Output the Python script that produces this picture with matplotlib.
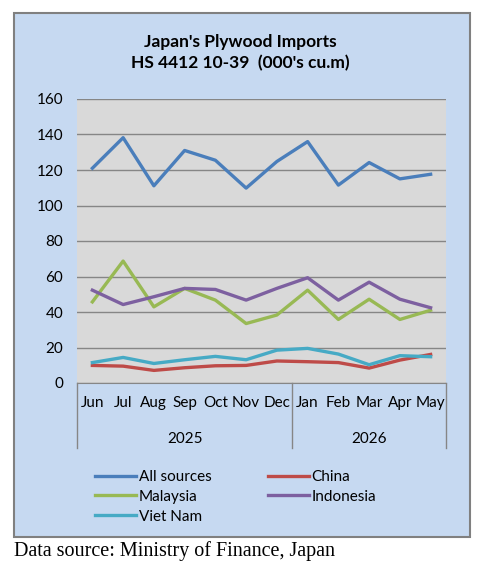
import matplotlib.pyplot as plt
from matplotlib.patches import Rectangle

months = ["Jun", "Jul", "Aug", "Sep", "Oct", "Nov", "Dec", "Jan", "Feb", "Mar", "Apr", "May"]
years = ["2025", "2026"]
year_spans = [(0, 7), (7, 12)]

all_sources = [121.0, 138.2, 111.1, 131.0, 125.5, 109.8, 124.8, 136.0, 111.5, 124.2, 115.0, 117.6]
china = [9.9, 9.5, 7.1, 8.6, 9.7, 9.9, 12.4, 12.0, 11.5, 8.4, 12.9, 16.1]
malaysia = [45.7, 68.7, 42.9, 53.3, 46.7, 33.5, 38.3, 52.3, 35.8, 47.2, 35.8, 41.0]
indonesia = [52.3, 44.2, 48.6, 53.3, 52.7, 46.7, 53.3, 59.3, 46.7, 56.8, 47.2, 42.4]
viet_nam = [11.5, 14.4, 11.0, 13.1, 15.0, 13.1, 18.5, 19.5, 16.3, 10.3, 15.4, 14.8]

plt.rcParams['font.family'] = ['Lato', 'DejaVu Sans']

fig = plt.figure(figsize=(4.84, 5.66), dpi=100)

# outer light blue panel
fig.patches.append(Rectangle((14 / 484, 1 - 537 / 566), 456 / 484, 524 / 566,
                             transform=fig.transFigure, facecolor="#C6D9F1",
                             edgecolor="#808080", linewidth=1.5, zorder=-5))

ax = fig.add_axes([77 / 484, 1 - 383 / 566, 369 / 484, 284 / 566])
ax.set_facecolor("#D9D9D9")

x = range(len(months))
lw = 2.4
l1, = ax.plot(x, all_sources, color="#4A7EBB", lw=lw, label="All sources")
l2, = ax.plot(x, china, color="#BE4B48", lw=lw, label="China")
l3, = ax.plot(x, malaysia, color="#98B954", lw=lw, label="Malaysia")
l4, = ax.plot(x, indonesia, color="#7D60A0", lw=lw, label="Indonesia")
l5, = ax.plot(x, viet_nam, color="#46AAC5", lw=lw, label="Viet Nam")

ax.set_xlim(-0.5, len(months) - 0.5)
ax.set_ylim(0, 160)
ax.set_yticks(range(0, 161, 20))
ax.yaxis.grid(True, color="#868686", lw=1)
ax.set_axisbelow(True)
for s in ["left", "right", "top"]:
    ax.spines[s].set_visible(False)
ax.spines["bottom"].set_color("#868686")
ax.tick_params(axis="y", length=0, labelsize=11, pad=10)
ax.tick_params(axis="x", length=0, labelsize=11, pad=9.5)
ax.set_xticks(list(x))
ax.set_xticklabels(months)

# year group labels and separators
sep_h = (448 - 383) / 284
for (a, b), yr in zip(year_spans, years):
    ax.text((a + b - 1) / 2, -(439 - 383) / 284, yr, transform=ax.get_xaxis_transform(),
            ha="center", va="center", fontsize=11)
for xs in [-0.5, 6.5, 11.5]:
    ax.plot([xs, xs], [0, -sep_h], transform=ax.get_xaxis_transform(),
            color="#868686", lw=1, clip_on=False)

fig.text(0.497, 1 - 42 / 566, "Japan's Plywood Imports", ha="center", va="center",
         fontsize=12.5, fontweight="bold")
fig.text(0.497, 1 - 63 / 566, "HS 4412 10-39  (000's cu.m)", ha="center", va="center",
         fontsize=12.5, fontweight="bold")

fig.legend([l1, l3, l5, l2, l4], ["All sources", "Malaysia", "Viet Nam", "China", "Indonesia"],
           ncol=2, loc="upper left", bbox_to_anchor=(95 / 484, 1 - 470 / 566),
           frameon=False, fontsize=11, handlelength=2.7, handletextpad=0.15,
           columnspacing=3.7, labelspacing=0.38, borderpad=0, borderaxespad=0)

fig.text(14 / 484, 1 - 551 / 566, "Data source: Ministry of Finance, Japan",
         ha="left", va="center", fontsize=14.5, family="Liberation Serif")

fig.savefig("out.png", dpi=100)
